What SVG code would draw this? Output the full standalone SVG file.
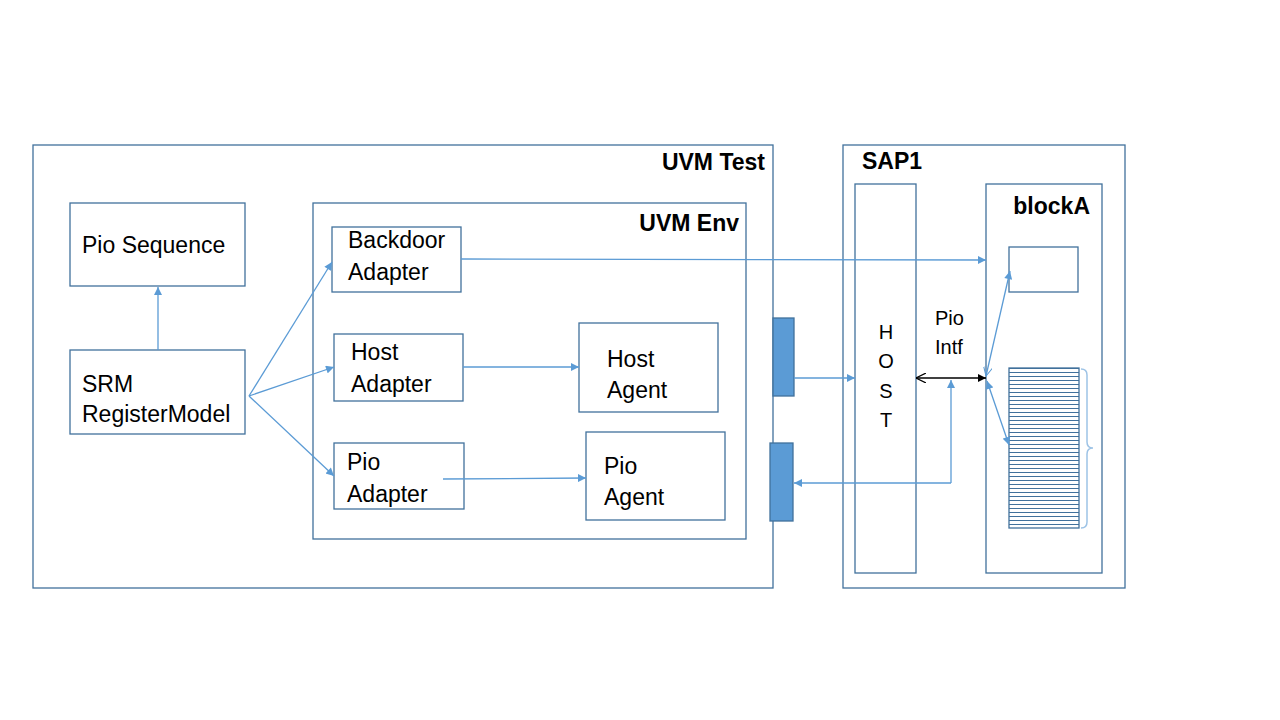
<svg xmlns="http://www.w3.org/2000/svg" width="1280" height="720" viewBox="0 0 1280 720">
<style>
.box{fill:#fff;stroke:#41719C;stroke-width:1.3}
.frame{fill:none;stroke:#41719C;stroke-width:1.3}
.fill{fill:#5B9BD5;stroke:#41719C;stroke-width:1.3}
.t{font-family:"Liberation Sans",Arial,sans-serif;font-size:23px;fill:#000}
.b{font-family:"Liberation Sans",Arial,sans-serif;font-size:23px;font-weight:bold;fill:#000}
.s{font-family:"Liberation Sans",Arial,sans-serif;font-size:20px;fill:#000}
.c{fill:none;stroke:#5B9BD5;stroke-width:1.3}
.k{fill:none;stroke:#000;stroke-width:1.3}
</style>
<defs>
<marker id="a" viewBox="0 0 10 10" refX="10" refY="5" markerWidth="10" markerHeight="8" markerUnits="userSpaceOnUse" orient="auto-start-reverse"><path d="M0,0L10,5L0,10z" fill="#5B9BD5"/></marker>
<marker id="ao" viewBox="0 0 10 10" refX="10" refY="5" markerWidth="10" markerHeight="9" markerUnits="userSpaceOnUse" orient="auto-start-reverse"><path d="M0,0L10,5L0,10" fill="none" stroke="#5B9BD5" stroke-width="1.2"/></marker>
<marker id="k" viewBox="0 0 10 10" refX="10" refY="5" markerWidth="10" markerHeight="8" markerUnits="userSpaceOnUse" orient="auto-start-reverse"><path d="M0,0L10,5L0,10z" fill="#000"/></marker>
<marker id="ko" viewBox="0 0 10 10" refX="10" refY="5" markerWidth="10" markerHeight="10" markerUnits="userSpaceOnUse" orient="auto-start-reverse"><path d="M0,0L10,5L0,10" fill="none" stroke="#000" stroke-width="1.2"/></marker>
<pattern id="stripe" x="0" y="368" width="10" height="4" patternUnits="userSpaceOnUse"><rect width="10" height="4" fill="#fff"/><line x1="0" y1="0.5" x2="10" y2="0.5" stroke="#41719C" stroke-width="1"/></pattern>
</defs>
<rect width="1280" height="720" fill="#fff"/>
<g id="uvm-test"><rect class="frame" x="33" y="145" width="740" height="443"/><text class="b" x="765" y="170" text-anchor="end">UVM Test</text></g>
<g id="sap1"><rect class="frame" x="843" y="145" width="282" height="443"/><text class="b" x="862" y="169">SAP1</text></g>
<g id="pio-sequence"><rect class="box" x="70" y="203" width="175" height="83"/><text class="t" x="82" y="253">Pio Sequence</text></g>
<g id="srm"><rect class="box" x="70" y="350" width="175" height="84"/><text class="t" x="82" y="392">SRM</text><text class="t" x="82" y="422">RegisterModel</text></g>
<g id="uvm-env"><rect class="frame" x="313" y="203" width="433" height="336"/><text class="b" x="739" y="231" text-anchor="end">UVM Env</text></g>
<g id="backdoor-adapter"><rect class="box" x="332" y="227" width="129" height="65"/><text class="t" x="348" y="248">Backdoor</text><text class="t" x="348" y="280">Adapter</text></g>
<g id="host-adapter"><rect class="box" x="334" y="334" width="129" height="67"/><text class="t" x="351" y="360">Host</text><text class="t" x="351" y="392">Adapter</text></g>
<g id="host-agent"><rect class="box" x="579" y="323" width="139" height="89"/><text class="t" x="607" y="367">Host</text><text class="t" x="607" y="398">Agent</text></g>
<g id="pio-adapter"><rect class="box" x="334" y="443" width="130" height="66"/><text class="t" x="347" y="470">Pio</text><text class="t" x="347" y="502">Adapter</text></g>
<g id="pio-agent"><rect class="box" x="586" y="432" width="139" height="88"/><text class="t" x="604" y="474">Pio</text><text class="t" x="604" y="505">Agent</text></g>
<g id="port1"><rect class="fill" x="773" y="318" width="21" height="78"/></g>
<g id="port2"><rect class="fill" x="770" y="443" width="23" height="78"/></g>
<g id="host"><rect class="box" x="855" y="184" width="61" height="389"/><text class="s" x="886" y="339" text-anchor="middle">H</text><text class="s" x="886" y="368" text-anchor="middle">O</text><text class="s" x="886" y="398" text-anchor="middle">S</text><text class="s" x="886" y="427" text-anchor="middle">T</text></g>
<g id="blockA"><rect class="box" x="986" y="184" width="116" height="389"/><text class="b" x="1090" y="214" text-anchor="end">blockA</text></g>
<g id="reg"><rect class="box" x="1009" y="247" width="69" height="45"/></g>
<g id="regfile"><rect x="1009" y="368" width="70" height="160" fill="url(#stripe)" stroke="#41719C" stroke-width="1.3"/><path d="M1081,369 Q1087,369 1087,375 L1087,442 Q1087,448 1093,448 Q1087,448 1087,454 L1087,522 Q1087,528 1081,528" fill="none" stroke="#9DC3E6" stroke-width="1.5"/></g>
<g id="pio-intf-label"><text class="s" x="935" y="325">Pio</text><text class="s" x="935" y="354">Intf</text></g>
<g id="connectors">
<line class="c" x1="158" y1="350" x2="158" y2="287" marker-end="url(#a)"/>
<line class="c" x1="249" y1="396" x2="332" y2="262" marker-end="url(#a)"/>
<line class="c" x1="249" y1="396" x2="334" y2="367" marker-end="url(#a)"/>
<line class="c" x1="249" y1="396" x2="334" y2="476" marker-end="url(#a)"/>
<line class="c" x1="461" y1="259" x2="986" y2="260" marker-end="url(#a)"/>
<line class="c" x1="463" y1="367" x2="579" y2="367" marker-end="url(#a)"/>
<line class="c" x1="443" y1="479" x2="586" y2="478" marker-end="url(#a)"/>
<line class="c" x1="794" y1="378" x2="855" y2="378" marker-end="url(#a)"/>
<line class="k" x1="916" y1="378" x2="986" y2="378" marker-start="url(#ko)" marker-end="url(#k)"/>
<polyline class="c" points="951,483 951,380" marker-end="url(#a)"/>
<line class="c" x1="951" y1="483" x2="794" y2="483" marker-end="url(#a)"/>
<line class="c" x1="986" y1="376" x2="1010" y2="271" marker-start="url(#ao)" marker-end="url(#a)"/>
<line class="c" x1="987" y1="381" x2="1009" y2="445" marker-start="url(#a)" marker-end="url(#a)"/>
</g>
</svg>
